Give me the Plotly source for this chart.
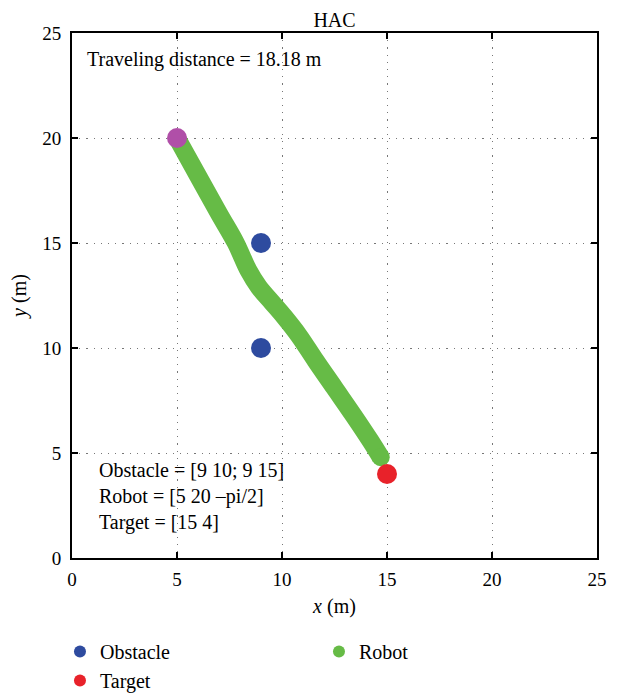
import plotly.graph_objects as go

# Data
obstacle_x = [9, 9]
obstacle_y = [10, 15]
robot_start = [5, 20]
target = [15, 4]
path_x = [5.0, 6.0, 7.0, 7.8, 8.4, 8.9, 9.5, 10.1, 10.8, 11.6, 12.5, 13.4, 14.2, 14.7]
path_y = [20.0, 18.2, 16.4, 15.0, 13.7, 12.9, 12.2, 11.5, 10.6, 9.4, 8.1, 6.8, 5.6, 4.8]
ticks = [0, 5, 10, 15, 20, 25]

FONT = "Liberation Serif"
C_OBS = "#2E4B9F"
C_ROBOT = "#66BB46"
C_TARGET = "#E8222A"
C_START = "#B04FA8"
FS = 20

fig = go.Figure()
fig.add_trace(go.Scatter(x=path_x, y=path_y, mode="lines",
                         line=dict(color=C_ROBOT, width=18, shape="spline"),
                         showlegend=False, hoverinfo="skip"))
# round cap at path end
fig.add_trace(go.Scatter(x=[path_x[-1]], y=[path_y[-1]], mode="markers",
                         marker=dict(color=C_ROBOT, size=18), showlegend=False, hoverinfo="skip"))
fig.add_trace(go.Scatter(x=obstacle_x, y=obstacle_y, mode="markers",
                         marker=dict(color=C_OBS, size=20), showlegend=False))
fig.add_trace(go.Scatter(x=[robot_start[0]], y=[robot_start[1]], mode="markers",
                         marker=dict(color=C_START, size=20), showlegend=False))
fig.add_trace(go.Scatter(x=[target[0]], y=[target[1]], mode="markers",
                         marker=dict(color=C_TARGET, size=20), showlegend=False))

# legend-only entries
for name, col in [("Obstacle", C_OBS), ("Robot", C_ROBOT), ("Target", C_TARGET)]:
    fig.add_trace(go.Scatter(x=[None], y=[None], mode="markers", name=name,
                             marker=dict(color=col, size=15)))

axis_common = dict(range=[0, 25], tickvals=ticks, ticks="inside", ticklen=6,
                   tickwidth=1.5, tickcolor="black", showline=True, linecolor="black",
                   linewidth=2, mirror="ticks", showgrid=True, gridcolor="#777777",
                   griddash="1.2px,6px", gridwidth=1.2, zeroline=False, automargin=False,
                   tickfont=dict(size=19, color="black", family=FONT))

fig.update_xaxes(**axis_common, ticklabelstandoff=3,
                 title=dict(text="<i>x</i> (m)", font=dict(size=FS, color="black", family=FONT),
                            standoff=10))
fig.update_yaxes(**axis_common, ticklabelstandoff=5,
                 title=dict(text="<i>y</i> (m)", font=dict(size=FS, color="black", family=FONT),
                            standoff=14))

fig.add_annotation(x=0.024, y=0.950, xref="paper", yref="paper", xanchor="left", yanchor="middle",
                   text="Traveling distance = 18.18 m", showarrow=False,
                   font=dict(size=FS, color="black", family=FONT))
fig.add_annotation(x=0.048, y=0.0, xref="paper", yref="paper", xanchor="left", yanchor="bottom",
                   text="Obstacle = [9 10; 9 15]<br>Robot = [5 20 \u2013pi/2]<br>Target = [15 4]",
                   showarrow=False, align="left",
                   font=dict(size=FS, color="black", family=FONT), yshift=22)

fig.update_layout(
    width=621, height=699,
    margin=dict(l=64, r=32, t=25, b=149),
    paper_bgcolor="white", plot_bgcolor="white",
    font=dict(family=FONT, color="black", size=FS),
    title=dict(text="HAC", x=(64 + 589) / 2 / 621, xanchor="center", y=0.983, yanchor="middle",
               font=dict(size=FS, family=FONT, color="black")),
    legend=dict(orientation="h", xref="container", yref="container", x=0.0837, y=0.1073,
                xanchor="left", yanchor="top",
                entrywidth=214, font=dict(size=FS, family=FONT, color="black"),
                tracegroupgap=0, itemsizing="constant"),
)

fig.write_html("out.html")
